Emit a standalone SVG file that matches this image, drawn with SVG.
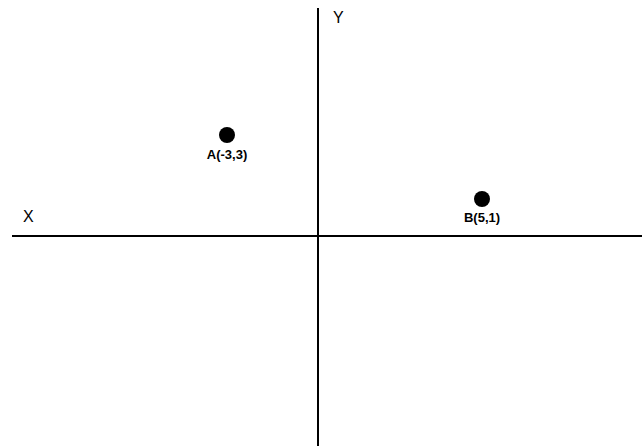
<svg xmlns="http://www.w3.org/2000/svg" width="643" height="448" viewBox="0 0 643 448">
<style>
.axis{stroke:#000;stroke-width:2;fill:none}
.pt{fill:#000}
.lbl{font-family:"Liberation Sans",Arial,sans-serif;font-size:13px;font-weight:bold;fill:#000;text-anchor:middle}
.ax{font-family:"Liberation Sans",Arial,sans-serif;font-size:16px;fill:#000}
</style>
<rect width="643" height="448" fill="#fff"/>
<g id="connectors">
<line class="axis" x1="12" y1="236" x2="642" y2="236"/>
<line class="axis" x1="318" y1="8" x2="318" y2="446"/>
</g>
<g id="axisX"><text class="ax" x="23" y="222">X</text></g>
<g id="axisY"><text class="ax" x="333" y="23">Y</text></g>
<g id="pointA">
<circle class="pt" cx="227" cy="135" r="8"/>
<text class="lbl" x="227" y="159">A(-3,3)</text>
</g>
<g id="pointB">
<circle class="pt" cx="482" cy="199" r="8"/>
<text class="lbl" x="482" y="222">B(5,1)</text>
</g>
</svg>
